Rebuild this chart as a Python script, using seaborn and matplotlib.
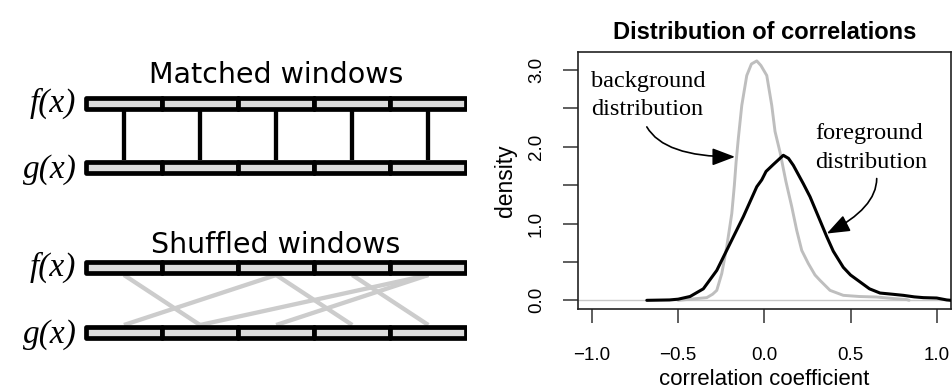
import numpy as np
import pandas as pd
import seaborn as sns
import matplotlib.pyplot as plt
from matplotlib.patches import Rectangle

# density curves
fg_x = [-0.682, -0.55, -0.50, -0.431, -0.354, -0.276, -0.199, -0.122, -0.044, -0.015, 0.01, 0.052,
        0.110, 0.140, 0.168, 0.226, 0.265, 0.323, 0.362, 0.40, 0.458, 0.50, 0.555, 0.61, 0.671,
        0.74, 0.806, 0.87, 0.922, 1.0, 1.058, 1.083]
fg_y = [0.0, 0.005, 0.015, 0.05, 0.15, 0.39, 0.74, 1.09, 1.48, 1.57, 1.68, 1.77,
        1.89, 1.85, 1.76, 1.52, 1.35, 1.04, 0.83, 0.64, 0.43, 0.33, 0.24, 0.15, 0.095,
        0.08, 0.065, 0.045, 0.035, 0.03, 0.005, 0.0]
bg_x = [-0.50, -0.43, -0.334, -0.30, -0.276, -0.247, -0.218, -0.189, -0.174, -0.164, -0.151, -0.131,
        -0.102, -0.075, -0.044, -0.02, 0.014, 0.043, 0.062, 0.091, 0.125, 0.159, 0.188, 0.217,
        0.255, 0.294, 0.323, 0.381, 0.458, 0.55, 0.652, 0.74, 0.826, 0.84]
bg_y = [0.0, 0.015, 0.035, 0.08, 0.13, 0.35, 0.70, 1.13, 1.50, 1.80, 2.11, 2.54,
        2.93, 3.08, 3.12, 3.06, 2.93, 2.54, 2.20, 1.93, 1.55, 1.22, 0.91, 0.65,
        0.48, 0.33, 0.26, 0.13, 0.065, 0.05, 0.043, 0.025, 0.01, 0.0]

x_ticks = [-1.0, -0.5, 0.0, 0.5, 1.0]
x_labels = ["\u22121.0", "\u22120.5", "0.0", "0.5", "1.0"]
y_ticks = [0.0, 0.5, 1.0, 1.5, 2.0, 2.5, 3.0]
y_labels = ["0.0", "", "1.0", "", "2.0", "", "3.0"]

# window diagram: 5 windows, pairs are (f window, g window)
n_windows = 5
matched_pairs = [(0, 0), (1, 1), (2, 2), (3, 3), (4, 4)]
shuffled_pairs = [(0, 1), (2, 0), (2, 3), (4, 1), (4, 2), (3, 4)]

sns.set_style("ticks")
plt.rcParams['font.family'] = ['Liberation Sans', 'DejaVu Sans']
plt.rcParams['text.color'] = 'black'
plt.rcParams['axes.labelcolor'] = 'black'
plt.rcParams['xtick.color'] = 'black'
plt.rcParams['ytick.color'] = 'black'

fig = plt.figure(figsize=(9.53, 3.92), dpi=100)

# ---------------- left panel (pixel coordinates) ----------------
axl = fig.add_axes([0, 0, 467 / 953, 1])
axl.set_xlim(0, 467)
axl.set_ylim(392, 0)
axl.axis('off')

x0, win_w = 85.9, 76.1
bar_h, bar_lw = 10.4, 3.4
half = bar_h / 2 + 2.3


def draw_row(yc):
    for i in range(n_windows):
        axl.add_patch(Rectangle((x0 + i * win_w, yc - bar_h / 2), win_w, bar_h,
                                fc='#DCDCDC', ec='black', lw=bar_lw, joinstyle='round', zorder=3))


def centre(i):
    return x0 + (i + 0.5) * win_w


panels = [("Matched windows", 83.3, 103.3, 167.5, matched_pairs, 'black'),
          ("Shuffled windows", 253, 267.5, 332.5, shuffled_pairs, '#CCCCCC')]
for title, ty, yf, yg, pairs, col in panels:
    draw_row(yf)
    draw_row(yg)
    for a, b in pairs:
        axl.plot([centre(a), centre(b)], [yf + half, yg - half], color=col, lw=3.1,
                 solid_capstyle='butt', zorder=2)
    axl.text(276, ty, title, ha='center', va='baseline', fontsize=20.5, family='DejaVu Sans')
    axl.text(76, yf, "f(x)", ha='right', va='center', fontsize=24,
             family='Liberation Serif', style='italic')
    axl.text(77, yg + 2, "g(x)", ha='right', va='center', fontsize=24,
             family='Liberation Serif', style='italic')

# ---------------- right panel: densities ----------------
ax = fig.add_axes([577.7 / 953, 82.7 / 392, 373.3 / 953, 257.6 / 392])
ax.axhline(0, color='#C8C8C8', lw=1.0, zorder=1)
sns.lineplot(x=bg_x, y=bg_y, ax=ax, color='#BEBEBE', lw=2.1, sort=False, estimator=None, zorder=2)
sns.lineplot(x=fg_x, y=fg_y, ax=ax, color='black', lw=2.2, sort=False, estimator=None, zorder=3)

ax.set_xlim(-1.083, 1.083)
ax.set_ylim(-0.117, 3.24)
ax.set_xticks(x_ticks)
ax.set_xticklabels(x_labels, fontsize=13.5)
ax.set_yticks(y_ticks)
ax.set_yticklabels(y_labels, fontsize=13.5, rotation=90, va='center')
ax.tick_params(axis='x', length=10, width=1.1, pad=17, color='#333333')
ax.tick_params(axis='y', length=10.5, width=1.1, pad=13, color='#333333')
for s in ax.spines.values():
    s.set_visible(True)
    s.set_linewidth(1.2)
    s.set_color('#222222')

ax.set_xlabel("correlation coefficient", fontsize=16)
ax.xaxis.set_label_coords(0.5, -0.232)
ax.set_ylabel("density", fontsize=16.5)
ax.yaxis.set_label_coords(-0.163, 0.5)
ax.set_title("Distribution of correlations", fontsize=17, fontweight='bold', pad=9)

# va='baseline' on two lines anchors the last line's baseline
serif = dict(family='Liberation Serif', fontsize=17.5, ha='left', va='baseline', linespacing=1.45)
ax.text(-1.005, 2.41, "background\ndistribution", **serif)
ax.text(0.294, 1.73, "foreground\ndistribution", **serif)

arrow = dict(arrowstyle='-|>,head_length=1.0,head_width=0.38', mutation_scale=14,
             color='black', lw=1.2, shrinkA=0, shrinkB=0)
ax.annotate("", xy=(-0.17, 1.87), xytext=(-0.682, 2.26),
            arrowprops=dict(connectionstyle='angle3,angleA=-60,angleB=0', **arrow))
ax.annotate("", xy=(0.362, 0.87), xytext=(0.652, 1.587),
            arrowprops=dict(connectionstyle='angle3,angleA=90,angleB=27', **arrow))

plt.savefig("out.png", dpi=100)
